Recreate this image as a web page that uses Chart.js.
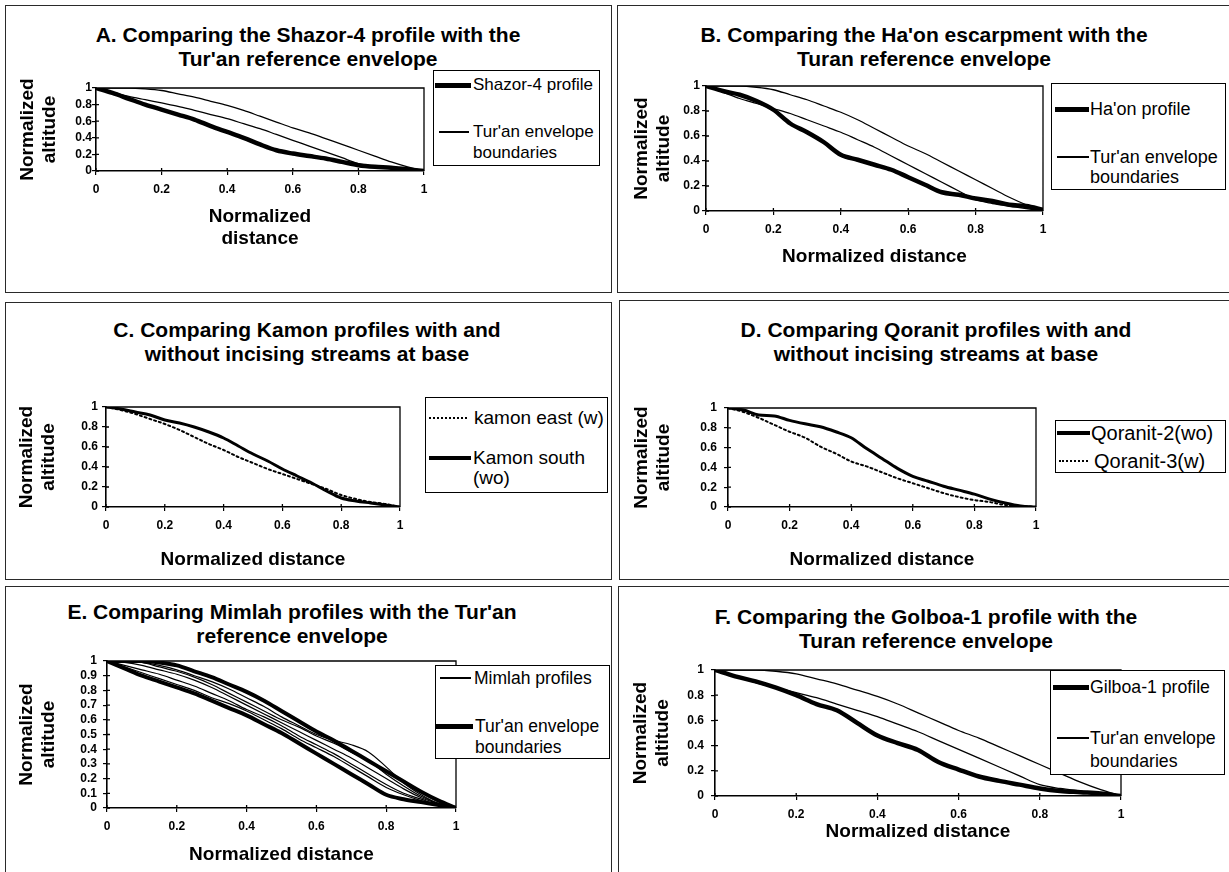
<!DOCTYPE html>
<html><head><meta charset="utf-8">
<script src="https://cdn.jsdelivr.net/npm/chart.js@4"></script>
<style>
body{margin:0;background:#fff;}
#page{position:relative;width:1229px;height:872px;overflow:hidden;background:#fff;font-family:'Liberation Sans',Arial,sans-serif;color:#000;}
.panel{position:absolute;border:1.5px solid #2a2a2a;box-sizing:border-box;}
.ttl{position:absolute;width:640px;text-align:center;font-weight:bold;font-size:21px;line-height:24px;white-space:nowrap;}
.leg{position:absolute;border:1px solid #000;background:#fff;box-sizing:border-box;}
.lt{position:absolute;white-space:nowrap;}
.ls{position:absolute;}
canvas{position:absolute;}
</style></head><body><div id="page"></div>
<script>
// ---------- data ----------
const xs = [0, 0.05, 0.1, 0.15, 0.2, 0.25, 0.3, 0.35, 0.4, 0.45, 0.5, 0.55, 0.6, 0.65, 0.7, 0.75, 0.8, 0.85, 0.9, 0.95, 1];
const turanUpper = [1, 1, 1, 0.99, 0.97, 0.93, 0.89, 0.84, 0.79, 0.73, 0.66, 0.59, 0.52, 0.46, 0.39, 0.32, 0.25, 0.18, 0.11, 0.05, 0];
const turanLower = [1, 0.95, 0.9, 0.86, 0.82, 0.78, 0.73, 0.68, 0.63, 0.57, 0.51, 0.44, 0.37, 0.30, 0.23, 0.16, 0.09, 0.06, 0.04, 0.02, 0];
const shazor4 = [1, 0.94, 0.87, 0.80, 0.74, 0.68, 0.62, 0.54, 0.47, 0.40, 0.32, 0.25, 0.21, 0.18, 0.15, 0.11, 0.07, 0.05, 0.04, 0.02, 0];
const haon = [1, 0.96, 0.93, 0.88, 0.81, 0.70, 0.63, 0.55, 0.45, 0.41, 0.37, 0.33, 0.27, 0.21, 0.15, 0.13, 0.10, 0.08, 0.05, 0.04, 0.01];
const kamonEast = [1, 0.97, 0.93, 0.88, 0.83, 0.77, 0.70, 0.63, 0.57, 0.50, 0.44, 0.38, 0.33, 0.28, 0.23, 0.18, 0.12, 0.08, 0.05, 0.03, 0];
const kamonSouth = [1, 0.98, 0.95, 0.92, 0.87, 0.84, 0.80, 0.75, 0.69, 0.61, 0.53, 0.46, 0.38, 0.31, 0.24, 0.16, 0.09, 0.06, 0.04, 0.02, 0];
const qoranit2 = [1, 0.98, 0.93, 0.92, 0.875, 0.84, 0.81, 0.76, 0.70, 0.59, 0.49, 0.39, 0.31, 0.26, 0.21, 0.17, 0.13, 0.08, 0.04, 0.01, 0];
const qoranit3 = [1, 0.96, 0.90, 0.83, 0.76, 0.70, 0.61, 0.54, 0.46, 0.41, 0.35, 0.29, 0.24, 0.19, 0.14, 0.10, 0.07, 0.05, 0.02, 0.01, 0];
const gilboa1 = [1, 0.95, 0.91, 0.86, 0.80, 0.73, 0.68, 0.58, 0.48, 0.42, 0.365, 0.27, 0.21, 0.155, 0.12, 0.09, 0.06, 0.04, 0.03, 0.02, 0];
const mimlah1 = [1, 1, 0.99, 0.97, 0.94, 0.90, 0.86, 0.81, 0.75, 0.69, 0.62, 0.56, 0.50, 0.46, 0.43, 0.38, 0.28, 0.17, 0.09, 0.03, 0];
const mimlah2 = [1, 0.99, 0.97, 0.94, 0.91, 0.87, 0.82, 0.76, 0.70, 0.64, 0.58, 0.52, 0.46, 0.40, 0.34, 0.27, 0.20, 0.13, 0.07, 0.03, 0];
const mimlah3 = [1, 0.97, 0.94, 0.91, 0.87, 0.83, 0.78, 0.73, 0.67, 0.62, 0.56, 0.49, 0.43, 0.37, 0.30, 0.23, 0.16, 0.10, 0.06, 0.02, 0];
const mimlah4 = [1, 0.96, 0.92, 0.88, 0.84, 0.80, 0.75, 0.71, 0.66, 0.60, 0.54, 0.47, 0.41, 0.35, 0.28, 0.21, 0.14, 0.09, 0.05, 0.02, 0];
const mimlah5 = [1, 1, 0.99, 0.96, 0.93, 0.89, 0.84, 0.78, 0.72, 0.66, 0.60, 0.55, 0.49, 0.44, 0.38, 0.32, 0.23, 0.15, 0.08, 0.03, 0];

const unitTicks = ['0', '0.2', '0.4', '0.6', '0.8', '1'];
const tenthTicks = ['0', '0.1', '0.2', '0.3', '0.4', '0.5', '0.6', '0.7', '0.8', '0.9', '1'];

const titleA = ['A. Comparing the Shazor-4 profile with the', "Tur'an reference envelope"];
const titleB = ["B. Comparing the Ha'on escarpment with the", 'Turan reference envelope'];
const titleC = ['C. Comparing Kamon profiles with and', 'without incising streams at base'];
const titleD = ['D. Comparing Qoranit profiles with and', 'without incising streams at base'];
const titleE = ["E. Comparing Mimlah profiles with the Tur'an", 'reference envelope'];
const titleF = ['F. Comparing the Golboa-1 profile with the', 'Turan reference envelope'];

const envLabel = ["Tur'an envelope", 'boundaries'];
const shazorLabel = ['Shazor-4 profile'];
const haonLabel = ["Ha'on profile"];
const kamonEastLabel = ['kamon east (w)'];
const kamonSouthLabel = ['Kamon south', '(wo)'];
const qoranit2Label = ['Qoranit-2(wo)'];
const qoranit3Label = ['Qoranit-3(w)'];
const mimlahLabel = ['Mimlah profiles'];
const gilboaLabel = ['Gilboa-1 profile'];

// ---------- helpers ----------
Chart.defaults.font.family = "'Liberation Sans', Arial, sans-serif";
Chart.defaults.color = '#000';
const TFS = 19, TLH = 1.15;
const LH = TFS * TLH;
const page = document.getElementById('page');

function ds(label, arr, width, dash) {
  return {
    label: label ? label.join(' ') : '',
    data: xs.map((x, i) => ({x: x, y: arr[i]})),
    borderColor: '#000', borderWidth: width, borderDash: dash || [],
    pointRadius: 0, cubicInterpolationMode: 'monotone', fill: false,
    borderCapStyle: 'round', borderJoinStyle: 'round'
  };
}

const framePlugin = {
  id: 'frame',
  afterDatasetsDraw(chart) {
    const {ctx, chartArea: a, scales} = chart;
    ctx.save();
    ctx.strokeStyle = '#000';
    ctx.lineWidth = 1.3;
    ctx.beginPath();
    ctx.moveTo(a.left, a.top); ctx.lineTo(a.right, a.top); ctx.lineTo(a.right, a.bottom);
    scales.x.ticks.forEach(t => { const px = scales.x.getPixelForValue(t.value); ctx.moveTo(px, a.bottom); ctx.lineTo(px, a.bottom - 3); });
    scales.y.ticks.forEach(t => { const py = scales.y.getPixelForValue(t.value); ctx.moveTo(a.left, py); ctx.lineTo(a.left + 3, py); });
    ctx.stroke();
    ctx.restore();
  }
};

const panels = [
  {frame: [5, 5, 612, 293], plot: [96, 88, 424, 171], ytx: 28, xtc: 239, ypad: 0, step: 0.2, yTicks: unitTicks,
   xTitle: ['Normalized', 'distance'], title: titleA, tc: [308, 35],
   datasets: [ds(envLabel, turanUpper, 1.3), ds(null, turanLower, 1.3), ds(shazorLabel, shazor4, 4.5)],
   legend: {box: [433, 70, 600, 166], fs: 17, items: [
     {text: shazorLabel, ys: [85], sx: [435, 471], tx: 473, w: 5},
     {text: envLabel, ys: [132, 153], sx: [439, 469], tx: 473, w: 1.3}]}},
  {frame: [617, 5, 1240, 293], plot: [706, 86, 1043, 211], ytx: 642, xtc: 257, ypad: 2, step: 0.2, yTicks: unitTicks,
   xTitle: 'Normalized distance', title: titleB, tc: [924, 35],
   datasets: [ds(envLabel, turanUpper, 1.3), ds(null, turanLower, 1.3), ds(haonLabel, haon, 4.5)],
   legend: {box: [1051, 83, 1226, 190], fs: 18, items: [
     {text: haonLabel, ys: [109], sx: [1055, 1089], tx: 1090, w: 5},
     {text: envLabel, ys: [157, 177], sx: [1057, 1089], tx: 1090, w: 1.3}]}},
  {frame: [5, 302, 612, 580], plot: [106, 407, 400, 507], ytx: 27, xtc: 560, ypad: 4, step: 0.2, yTicks: unitTicks,
   xTitle: 'Normalized distance', title: titleC, tc: [307, 330],
   datasets: [ds(kamonEastLabel, kamonEast, 2, [2, 3]), ds(kamonSouthLabel, kamonSouth, 3)],
   legend: {box: [425, 397, 608, 493], fs: 19, items: [
     {text: kamonEastLabel, ys: [418], sx: [429, 467], tx: 474, dotted: true},
     {text: kamonSouthLabel, ys: [458, 478], sx: [429, 471], tx: 473, w: 4}]}},
  {frame: [619, 300, 1240, 580], plot: [728, 408, 1036, 507], ytx: 642, xtc: 560, ypad: 7, step: 0.2, yTicks: unitTicks,
   xTitle: 'Normalized distance', title: titleD, tc: [936, 330],
   datasets: [ds(qoranit2Label, qoranit2, 3), ds(qoranit3Label, qoranit3, 2, [2, 3])],
   legend: {box: [1055, 420, 1226, 473], fs: 20, items: [
     {text: qoranit2Label, ys: [433], sx: [1057, 1090], tx: 1091, w: 4},
     {text: qoranit3Label, ys: [461], sx: [1059, 1088], tx: 1094, dotted: true}]}},
  {frame: [5, 586, 612, 890], plot: [107, 661, 456, 808], ytx: 27, xtc: 855, ypad: 6, step: 0.1, yTicks: tenthTicks,
   xTitle: 'Normalized distance', title: titleE, tc: [292, 612],
   datasets: [ds(mimlahLabel, mimlah1, 1.2), ds(null, mimlah2, 1.2), ds(null, mimlah3, 1.2), ds(null, mimlah4, 1.2), ds(null, mimlah5, 1.2),
              ds(envLabel, turanUpper, 4), ds(null, turanLower, 4)],
   legend: {box: [435, 665, 610, 759], fs: 17.5, items: [
     {text: mimlahLabel, ys: [678], sx: [440, 471], tx: 474, w: 1.3},
     {text: envLabel, ys: [726, 747], sx: [435, 473], tx: 475, w: 5}]}},
  {frame: [618, 586, 1240, 890], plot: [715, 670, 1121, 796], ytx: 641, xtc: 832, ypad: 7, step: 0.2, yTicks: unitTicks,
   xTitle: 'Normalized distance', title: titleF, tc: [926, 617],
   datasets: [ds(envLabel, turanUpper, 1.3), ds(null, turanLower, 1.3), ds(gilboaLabel, gilboa1, 4.5)],
   legend: {box: [1050, 670, 1225, 775], fs: 17.7, items: [
     {text: gilboaLabel, ys: [687], sx: [1053, 1089], tx: 1090, w: 5},
     {text: envLabel, ys: [738, 761], sx: [1057, 1089], tx: 1090, w: 1.3}]}}
];

function el(cls, l, t, w, h) {
  const d = document.createElement('div');
  d.className = cls;
  d.style.left = l + 'px'; d.style.top = t + 'px';
  if (w != null) d.style.width = w + 'px';
  if (h != null) d.style.height = h + 'px';
  page.appendChild(d);
  return d;
}

panels.forEach(p => {
  const [fl, ft, fr, fb] = p.frame;
  el('panel', fl, ft, fr - fl, fb - ft);
});

panels.forEach(p => {
  const t = el('ttl', p.tc[0] - 320, p.tc[1] - 12);
  p.title.forEach((line, k) => {
    if (k) t.appendChild(document.createElement('br'));
    t.appendChild(document.createTextNode(line));
  });

  const [pl, pt, pr, pb] = p.plot;
  const cl = p.ytx - 15, ct = pt - 12, cr = pr + 14;
  const ch = Math.round(p.xtc + LH / 2 - ct);
  const cv = document.createElement('canvas');
  cv.width = cr - cl; cv.height = ch;
  cv.style.left = cl + 'px'; cv.style.top = ct + 'px';
  cv.style.width = (cr - cl) + 'px'; cv.style.height = ch + 'px';
  page.appendChild(cv);
  const yW = pl - cl;
  const xH = ch - (pb - ct);
  const common = {
    grid: {drawOnChartArea: false, drawTicks: true, tickLength: 4, color: '#000', lineWidth: 1.2},
    border: {display: true, color: '#000', width: 1.6}
  };
  new Chart(cv, {
    type: 'line',
    data: {datasets: p.datasets},
    options: {
      responsive: false, animation: false, events: [],
      layout: {padding: {left: 0, top: pt - ct, right: cr - pr, bottom: 0}},
      plugins: {legend: {display: false}, tooltip: {enabled: false}, title: {display: false}},
      scales: {
        x: Object.assign({
          type: 'linear', min: 0, max: 1,
          ticks: {stepSize: 0.2, padding: 7, autoSkip: false, maxRotation: 0, color: '#000',
                  font: {size: 12, weight: 'bold'}, callback: (v, i) => unitTicks[i]},
          title: {display: true, text: p.xTitle, color: '#000', font: {size: TFS, weight: 'bold', lineHeight: TLH}, padding: {top: 0, bottom: 0}},
          afterFit: s => { s.height = xH; s.paddingLeft = 0; s.paddingRight = 0; }
        }, common),
        y: Object.assign({
          type: 'linear', min: 0, max: 1,
          ticks: {stepSize: p.step, padding: p.ypad, autoSkip: false, color: '#000',
                  font: {size: 12, weight: 'bold'}, callback: (v, i) => p.yTicks[i]},
          title: {display: true, text: ['Normalized', 'altitude'], color: '#000', font: {size: TFS, weight: 'bold', lineHeight: TLH}, padding: {top: 15 - LH / 2, bottom: 0}},
          afterFit: s => { s.width = yW; s.paddingTop = 0; s.paddingBottom = 0; }
        }, common)
      }
    },
    plugins: [framePlugin]
  });
});

panels.forEach(p => {
  const lg = p.legend;
  const [l, t, r, b] = lg.box;
  el('leg', l, t, r - l, b - t);
  lg.items.forEach(it => {
    const s = el('ls', it.sx[0], 0, it.sx[1] - it.sx[0]);
    if (it.dotted) {
      s.style.height = '0px';
      s.style.borderTop = '2px dotted #000';
      s.style.top = (it.ys[0] - 1) + 'px';
    } else {
      s.style.background = '#000';
      s.style.height = it.w + 'px';
      s.style.top = (it.ys[0] - it.w / 2) + 'px';
    }
    it.text.forEach((line, k) => {
      const d = el('lt', it.tx, it.ys[k] - 11);
      d.style.fontSize = lg.fs + 'px';
      d.style.lineHeight = '22px';
      d.textContent = line;
    });
  });
});
</script>
</body></html>
